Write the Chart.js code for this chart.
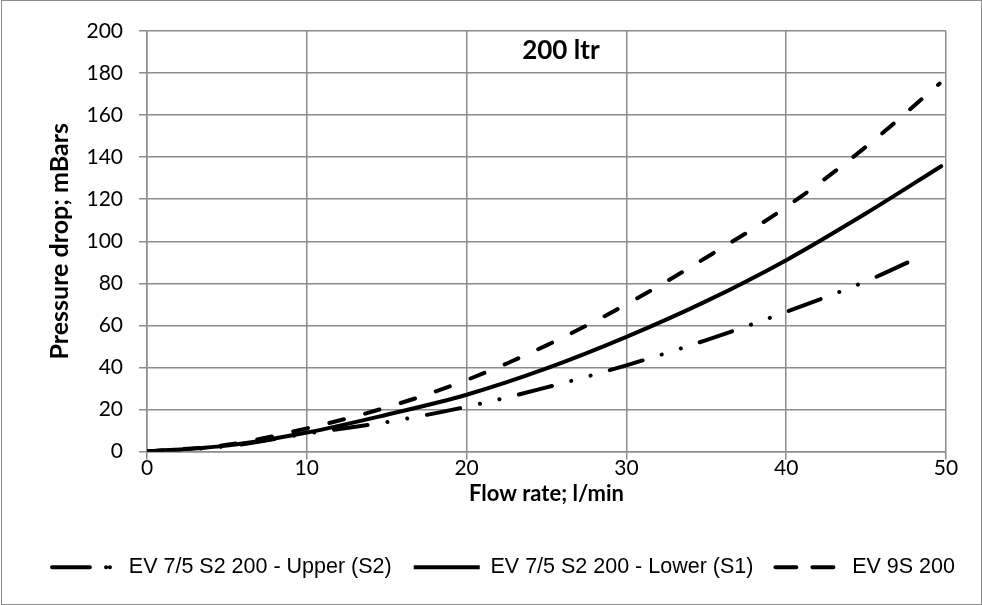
<!DOCTYPE html>
<html>
<head>
<meta charset="utf-8">
<script src="https://cdn.jsdelivr.net/npm/chart.js@4.4.0/dist/chart.umd.min.js"></script>
<style>
  html, body { margin: 0; padding: 0; background: #fff; }
  #wrap { width: 982px; height: 605px; position: relative; }
</style>
</head>
<body>
<div id="wrap"><canvas id="pressureChart" width="982" height="605"></canvas></div>
<script>
// values
const flowUpper = [0, 5, 10, 15, 20, 25, 30, 35, 40, 45, 48.7];
const dropUpper = [0, 2.5, 8.5, 14, 21.3, 30.5, 41, 53, 66.4, 81, 93.8];

const flowLower = [0, 5, 10, 15, 20, 25, 30, 35, 40, 45, 49.7];
const dropLower = [0, 2.8, 9, 17.5, 27, 39.5, 54.5, 71.5, 91, 113.3, 135.7];

const flow9S = [0, 5, 10, 15, 20, 25, 30, 35, 40, 45, 49.6];
const drop9S = [0, 3.2, 11, 21, 34, 50.5, 70, 92.3, 116.3, 145, 175];

const seriesNames = ['EV 7/5 S2 200 - Upper (S2)', 'EV 7/5 S2 200 - Lower (S1)', 'EV 9S 200'];
const xTicks = [0, 10, 20, 30, 40, 50];
const yTicks = [0, 20, 40, 60, 80, 100, 120, 140, 160, 180, 200];
const chartLabel = '200 ltr';

const toPoints = (xs, ys) => xs.map((x, i) => ({ x: x, y: ys[i] }));

const gridGray = '#8c8c8c';
const tickFont = { family: 'Lato, "Open Sans", sans-serif', size: 21 };
const xTitleFont = { family: 'Lato, "Open Sans", sans-serif', size: 22, weight: 'bold' };
const yTitleFont = { family: 'Lato, "Open Sans", sans-serif', size: 25, weight: 'bold' };

const frame = {
    id: 'frame',
    beforeDraw(chart) {
        const ctx = chart.ctx;
        ctx.save();
        ctx.fillStyle = '#fff';
        ctx.fillRect(0, 0, chart.width, chart.height);
        ctx.strokeStyle = '#8c8c8c';
        ctx.lineWidth = 1;
        ctx.strokeRect(1.5, 0.5, chart.width - 2, chart.height - 1);
        ctx.restore();
    },
    afterDraw(chart) {
        // "200 ltr" label sits inside the plot, near the top
        const ctx = chart.ctx;
        ctx.save();
        ctx.font = 'bold 26px Lato, "Open Sans", sans-serif';
        ctx.fillStyle = '#000';
        ctx.textAlign = 'center';
        ctx.textBaseline = 'middle';
        ctx.fillText(chartLabel, chart.scales.x.getPixelForValue(25.9), chart.scales.y.getPixelForValue(190.5));
        ctx.restore();
    }
};

const baseSet = {
    borderColor: '#000',
    backgroundColor: '#000',
    borderWidth: 4,
    pointRadius: 0,
    fill: false,
    tension: 0.35,
    borderCapStyle: 'round'
};

const ctx = document.getElementById('pressureChart').getContext('2d');
const chart = new Chart(ctx, {
    type: 'line',
    data: {
        datasets: [
            { ...baseSet, label: seriesNames[0], data: toPoints(flowUpper, dropUpper),
              borderDash: [34, 20, 0.1, 20, 0.1, 20] },
            { ...baseSet, label: seriesNames[1], data: toPoints(flowLower, dropLower) },
            { ...baseSet, label: seriesNames[2], data: toPoints(flow9S, drop9S),
              borderDash: [15, 22] }
        ]
    },
    options: {
        responsive: false,
        animation: false,
        layout: { padding: { top: 31, right: 0, left: 25, bottom: 17 } },
        scales: {
            x: {
                type: 'linear',
                min: 0,
                max: 50,
                afterBuildTicks: (scale) => { scale.ticks = xTicks.map(v => ({ value: v })); },
                afterFit: (scale) => { scale.height = 83; },
                grid: { color: gridGray, lineWidth: 1.5, tickLength: 8, drawTicks: true },
                border: { color: gridGray, width: 1.5 },
                ticks: { color: '#000', font: tickFont, padding: -4, maxRotation: 0 },
                title: { display: true, text: 'Flow rate; l/min', color: '#000', font: xTitleFont, padding: { top: 0, bottom: 27 } }
            },
            y: {
                type: 'linear',
                min: 0,
                max: 200,
                afterBuildTicks: (scale) => { scale.ticks = yTicks.map(v => ({ value: v })); },
                afterFit: (scale) => { scale.width = 122; },
                grid: { color: gridGray, lineWidth: 1.5, tickLength: 8, drawTicks: true },
                border: { color: gridGray, width: 1.5 },
                ticks: { color: '#000', font: tickFont, padding: 16 },
                title: { display: true, text: 'Pressure drop; mBars', color: '#000', font: yTitleFont, padding: { top: 20, bottom: 0 } }
            },
            // empty right-hand strip, keeps the plot off the right edge
            yRight: {
                type: 'linear',
                position: 'right',
                min: 0,
                max: 200,
                afterFit: (scale) => { scale.width = 36; },
                grid: { display: false, drawTicks: false },
                border: { display: false },
                ticks: { display: false }
            }
        },
        plugins: {
            legend: {
                position: 'bottom',
                labels: {
                    color: '#000',
                    font: { family: '"Liberation Sans", Arial, sans-serif', size: 21.5 },
                    boxWidth: 66,
                    boxHeight: 0,
                    padding: 22
                }
            },
            tooltip: { enabled: false }
        }
    },
    plugins: [frame]
});
</script>
</body>
</html>
